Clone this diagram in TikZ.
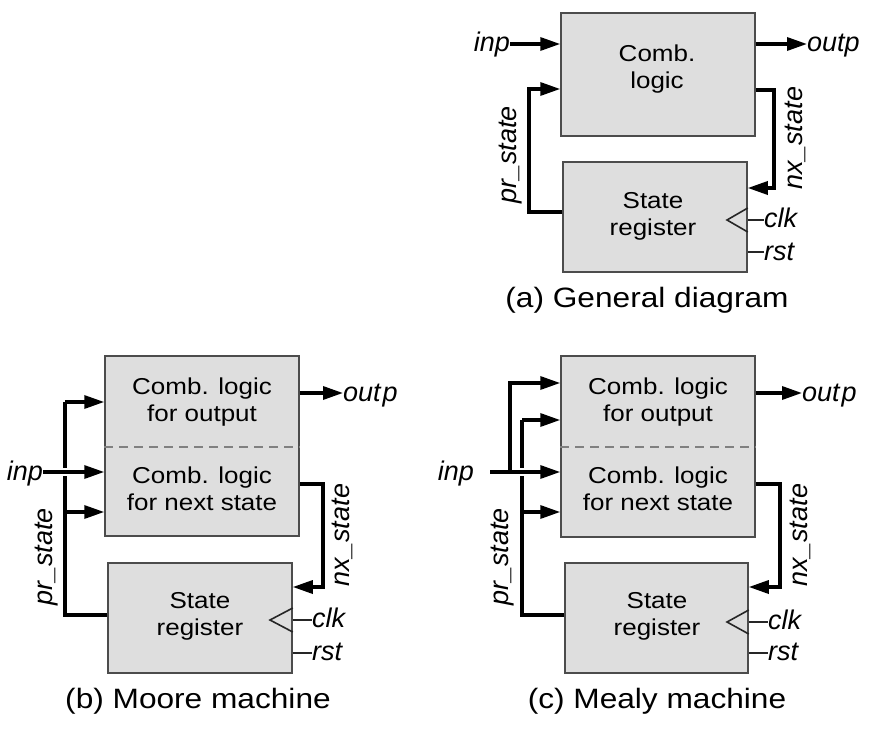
\documentclass[tikz,border=0pt]{standalone}
\usepackage{fontspec}
\setmainfont{Liberation Sans}
\newfontfamily\bfnt{Liberation Sans}[FakeStretch=1.13]
\usetikzlibrary{arrows.meta}
\begin{document}
\begin{tikzpicture}[x=1pt,y=-1pt,
  blk/.style 2 args={draw=black!70, line width=1.5pt, fill=black!13, inner sep=0pt,
    minimum width=#1, minimum height=#2},
  wire/.style={line width=3.3pt},
  arr/.style={wire, -{Triangle[length=20pt,width=13pt]}},
  halo/.style={draw=white, line width=8.5pt},
  thin/.style={draw=black!85, line width=1.6pt},
  sepline/.style={draw=black!50, line width=1.2pt, dash pattern=on 9pt off 6pt},
  lbl/.style={font=\fontsize{27}{30}\selectfont\itshape, inner sep=0pt},
  txt/.style={font=\bfnt\fontsize{23}{27}\selectfont, align=center, inner sep=0pt},
  captext/.style={font=\bfnt\fontsize{28}{32}\selectfont, inner sep=0pt}
]
\fill[white] (0,0) rectangle (874,735);
\useasboundingbox (0,0) rectangle (874,735);

% ---------------- (a) General diagram ----------------
\node[blk={194pt}{123pt}] (combA) at (658,74.5) {};
\node[blk={184pt}{110pt}] (regA) at (655,217) {};
\node[txt] (tcombA) at (657,69) {Comb.\\logic};
\node[txt] (tregA) at (653,216) {State\\register};
\node[lbl, anchor=base east] (inpA) at (510,52) {inp};
\node[lbl, anchor=base west] (outpA) at (807,52) {outp};
\draw[arr] (inpA.east |- 0,44) -- (combA.west |- 0,44);
\draw[arr] (combA.east |- 0,44) -- (outpA.west |- 0,44);
\draw[arr] (regA.west |- 0,212) -- (529,212) -- (529,89) -- (combA.west |- 0,89);
\draw[arr] (combA.east |- 0,90) -- (774,90) -- (774,188) -- (regA.east |- 0,188);
\node[lbl, rotate=90] (prA) at (511,155) {pr\_state};
\node[lbl, rotate=90] (nxA) at (795,138) {nx\_state};
\draw[thin] (regA.east |- 0,208) -- (727,220) -- (regA.east |- 0,232);
\node[lbl, anchor=base west] (clkA) at (764,227) {clk};
\node[lbl, anchor=base west] (rstA) at (764,260) {rst};
\draw[thin] (regA.east |- 0,220) -- (clkA.west |- 0,220);
\draw[thin] (regA.east |- 0,252) -- (rstA.west |- 0,252);
\node[captext] (capA) at (647,300) {(a) General diagram};

% ---------------- (b) Moore machine ----------------
\node[blk={194pt}{180pt}] (logB) at (202,446) {};
\node[blk={184pt}{110pt}] (regB) at (200,618) {};
\draw[sepline] (logB.west |- 0,447) -- (logB.east |- 0,447);
\node[txt] (toutB) at (202,402) {Comb. logic\\for output};
\node[txt] (tnsB) at (202,489) {Comb. logic\\for next state};
\node[txt] (tregB) at (200,616) {State\\register};
\node[lbl, anchor=base east] (inpB) at (43,480) {inp};
\node[lbl, anchor=base west] (outpB) at (343,401) {out\kern2pt p};
\draw[arr] (logB.east |- 0,393) -- (outpB.west |- 0,393);
\draw[wire] (regB.west |- 0,615) -- (65,615) -- (65,402);
\draw[arr] (65,402) -- (logB.west |- 0,402);
\draw[arr] (65,512) -- (logB.west |- 0,512);
\draw[halo] (59,472) -- (71,472);
\draw[arr] (inpB.east |- 0,472) -- (logB.west |- 0,472);
\draw[arr] (logB.east |- 0,484) -- (323,484) -- (323,587) -- (regB.east |- 0,587);
\node[lbl, rotate=90] (prB) at (47,557) {pr\_state};
\node[lbl, rotate=90] (nxB) at (342,535) {nx\_state};
\draw[thin] (regB.east |- 0,608) -- (270,620) -- (regB.east |- 0,632);
\node[lbl, anchor=base west] (clkB) at (312,627) {clk};
\node[lbl, anchor=base west] (rstB) at (312,660) {rst};
\draw[thin] (regB.east |- 0,620) -- (clkB.west |- 0,620);
\draw[thin] (regB.east |- 0,653) -- (rstB.west |- 0,653);
\node[captext] (capB) at (198,701) {(b) Moore machine};

% ---------------- (c) Mealy machine ----------------
\node[blk={194pt}{181pt}] (logC) at (658,446.5) {};
\node[blk={183pt}{110pt}] (regC) at (656.5,618) {};
\draw[sepline] (logC.west |- 0,447) -- (logC.east |- 0,447);
\node[txt] (toutC) at (658,402) {Comb. logic\\for output};
\node[txt] (tnsC) at (658,489) {Comb. logic\\for next state};
\node[txt] (tregC) at (657,616) {State\\register};
\node[lbl, anchor=base east] (inpC) at (474,480) {inp};
\node[lbl, anchor=base west] (outpC) at (802,401) {out\kern2pt p};
\coordinate (inC) at (490,472);
\draw[arr] (logC.east |- 0,393) -- (outpC.west |- 0,393);
\draw[wire] (regC.west |- 0,615) -- (522,615) -- (522,420);
\draw[arr] (522,420) -- (logC.west |- 0,420);
\draw[arr] (522,512) -- (logC.west |- 0,512);
\draw[halo] (516,472) -- (528,472);
\draw[arr] (inC) -- (logC.west |- 0,472);
\draw[arr] (510,472) -- (510,383) -- (logC.west |- 0,383);
\draw[arr] (logC.east |- 0,484) -- (780,484) -- (780,587) -- (regC.east |- 0,587);
\node[lbl, rotate=90] (prC) at (503,557) {pr\_state};
\node[lbl, rotate=90] (nxC) at (800,535) {nx\_state};
\draw[thin] (regC.east |- 0,610) -- (727,622) -- (regC.east |- 0,634);
\node[lbl, anchor=base west] (clkC) at (768,629) {clk};
\node[lbl, anchor=base west] (rstC) at (768,660) {rst};
\draw[thin] (regC.east |- 0,622) -- (clkC.west |- 0,622);
\draw[thin] (regC.east |- 0,653) -- (rstC.west |- 0,653);
\node[captext] (capC) at (657,701) {(c) Mealy machine};
\end{tikzpicture}
\end{document}
